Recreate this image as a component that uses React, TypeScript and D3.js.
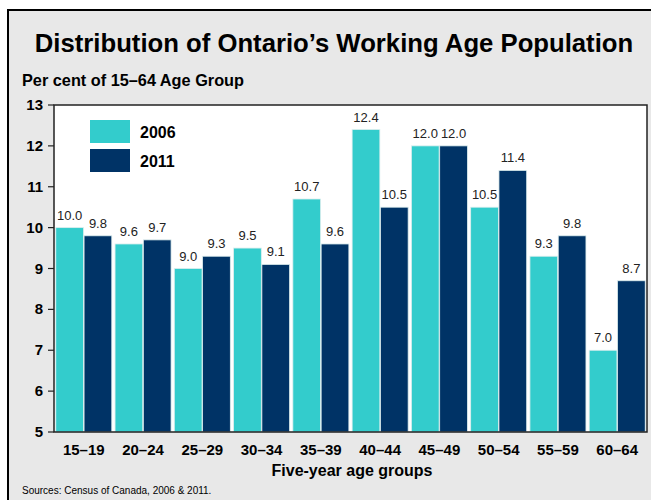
import React from "react";
import * as d3 from "d3";

const categories = ["15–19", "20–24", "25–29", "30–34", "35–39", "40–44", "45–49", "50–54", "55–59", "60–64"];
const series2006 = [10.0, 9.6, 9.0, 9.5, 10.7, 12.4, 12.0, 10.5, 9.3, 7.0];
const series2011 = [9.8, 9.7, 9.3, 9.1, 9.6, 10.5, 12.0, 11.4, 9.8, 8.7];
const seriesNames = ["2006", "2011"];
const yTicks = [5, 6, 7, 8, 9, 10, 11, 12, 13];

const W = 651;
const H = 500;
const plot = { left: 54, top: 105, right: 647, bottom: 432 };
const colors = ["#33CCCC", "#003366"];
const font = "Liberation Sans, Arial, sans-serif";

export default function App() {
  const x = d3
    .scaleBand<string>()
    .domain(categories)
    .range([plot.left, plot.right])
    .paddingInner(0.055)
    .paddingOuter(0.03);
  const xs = d3.scaleBand<string>().domain(seriesNames).range([0, x.bandwidth()]).paddingInner(0.02);
  const y = d3.scaleLinear().domain([5, 13]).range([plot.bottom, plot.top]);
  const data = [series2006, series2011];

  return (
    <svg width={W} height={H} style={{ position: "absolute", left: 0, top: 0 }} fontFamily={font}>
      <rect x={0} y={0} width={W} height={H} fill="#ffffff" />
      <rect x={8} y={10} width={W + 10} height={H + 10} fill="#e8e8e8" stroke="#000" strokeWidth={2} />
      <text x={334} y={52} textAnchor="middle" fontSize={25.7} fontWeight="bold" fill="#000">
        Distribution of Ontario’s Working Age Population
      </text>
      <text x={22} y={86} fontSize={16.3} fontWeight="bold" fill="#000">
        Per cent of 15–64 Age Group
      </text>
      <rect x={plot.left} y={plot.top} width={plot.right - plot.left} height={plot.bottom - plot.top} fill="#fff" />
      {data.map((vals, si) =>
        vals.map((v, i) => {
          const bx = (x(categories[i]) as number) + (xs(seriesNames[si]) as number);
          const bw = xs.bandwidth();
          return (
            <g key={`${si}-${i}`}>
              <rect x={bx} y={y(v)} width={bw} height={y(5) - y(v)} fill={colors[si]} stroke="#ddeeee" strokeWidth={0.8} />
              <text x={bx + bw / 2} y={y(v) - 8} textAnchor="middle" fontSize={13} fill="#222">
                {v.toFixed(1)}
              </text>
            </g>
          );
        })
      )}
      <rect
        x={plot.left}
        y={plot.top}
        width={plot.right - plot.left}
        height={plot.bottom - plot.top}
        fill="none"
        stroke="#222"
        strokeWidth={1.5}
      />
      {yTicks.map((t) => (
        <g key={t}>
          <line x1={plot.left - 6} x2={plot.left} y1={y(t)} y2={y(t)} stroke="#222" strokeWidth={1.2} />
          <text x={43} y={y(t) + 5} textAnchor="end" fontSize={15} fontWeight="bold" fill="#000">
            {t}
          </text>
        </g>
      ))}
      {categories.map((c) => (
        <text
          key={c}
          x={(x(c) as number) + x.bandwidth() / 2}
          y={455}
          textAnchor="middle"
          fontSize={15}
          fontWeight="bold"
          fill="#000"
        >
          {c}
        </text>
      ))}
      <text x={352} y={476} textAnchor="middle" fontSize={16} fontWeight="bold" fill="#000">
        Five-year age groups
      </text>
      <text x={22} y={494} fontSize={10} fill="#000">
        Sources: Census of Canada, 2006 &amp; 2011.
      </text>
      {seriesNames.map((s, i) => (
        <g key={s}>
          <rect x={90} y={120 + i * 29} width={40} height={23} fill={colors[i]} />
          <text x={140} y={138 + i * 29} fontSize={16} fontWeight="bold" fill="#000">
            {s}
          </text>
        </g>
      ))}
    </svg>
  );
}
